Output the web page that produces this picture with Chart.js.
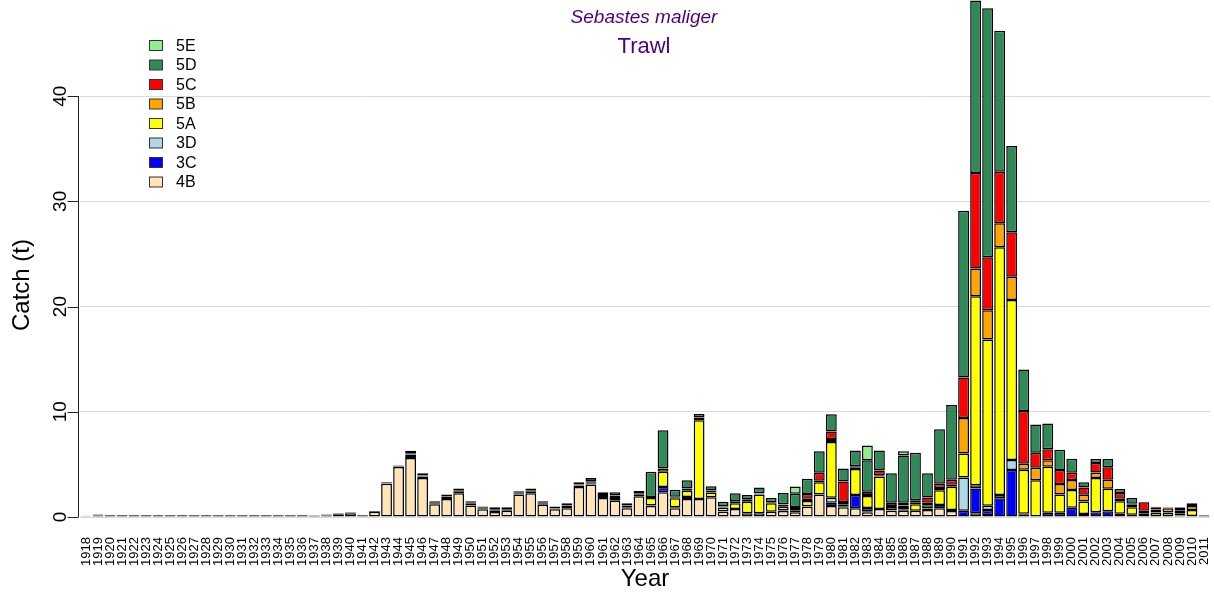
<!DOCTYPE html>
<html>
<head>
<meta charset="utf-8">
<script src="https://cdn.jsdelivr.net/npm/chart.js@4.4.1/dist/chart.umd.min.js"></script>
<style>
  html, body { margin: 0; padding: 0; background: #fff; }
  #wrap { width: 1214px; height: 596px; }
</style>
</head>
<body>
<div id="wrap"><canvas id="catch-chart" width="1214" height="596"></canvas></div>
<script>
// Catch by area, trawl fishery (t)
const years = [
  '1918','1919',
  '1920','1921','1922','1923','1924','1925','1926','1927','1928','1929',
  '1930','1931','1932','1933','1934','1935','1936','1937','1938','1939',
  '1940','1941','1942','1943','1944','1945','1946','1947','1948','1949',
  '1950','1951','1952','1953','1954','1955','1956','1957','1958','1959',
  '1960','1961','1962','1963','1964','1965','1966','1967','1968','1969',
  '1970','1971','1972','1973','1974','1975','1976','1977','1978','1979',
  '1980','1981','1982','1983','1984','1985','1986','1987','1988','1989',
  '1990','1991','1992','1993','1994','1995','1996','1997','1998','1999',
  '2000','2001','2002','2003','2004','2005','2006','2007','2008','2009',
  '2010','2011'
];

// one value per year, 1918 -> 2011
const area4B = [
  0.08, 0.15,
  0.12, 0.12, 0.12, 0.12, 0.12, 0.12, 0.12, 0.12, 0.12, 0.12,
  0.12, 0.12, 0.12, 0.12, 0.12, 0.12, 0.12, 0.1, 0.15, 0.25,
  0.35, 0.12, 0.5, 3.15, 4.75, 5.6, 3.7, 1.2, 1.7, 2.25,
  1.1, 0.73, 0.48, 0.6, 2.15, 2.25, 1.17, 0.73, 0.83, 2.85,
  3.1, 1.8, 1.55, 0.83, 1.97, 1.05, 2.35, 0.83, 1.7, 1.7,
  1.87, 0.5, 0.76, 0.35, 0.35, 0.5, 0.57, 0.45, 0.98, 2.15,
  1.05, 0.92, 0.83, 0.45, 0.76, 0.6, 0.6, 0.6, 0.66, 0.83,
  0.57, 0, 0.35, 0.2, 0, 0, 0.25, 0, 0, 0,
  0, 0, 0, 0, 0, 0, 0, 0, 0, 0,
  0, 0
];
const area3C = [
  0, 0,
  0, 0, 0, 0, 0, 0, 0, 0, 0, 0,
  0, 0, 0, 0, 0, 0, 0, 0, 0, 0,
  0, 0, 0, 0, 0, 0, 0, 0, 0, 0,
  0, 0, 0, 0, 0, 0, 0, 0, 0.12, 0,
  0.05, 0, 0.15, 0.1, 0, 0.05, 0.5, 0.1, 0.2, 0,
  0, 0.05, 0, 0, 0, 0, 0.05, 0, 0.05, 0,
  0.3, 0.1, 1.27, 0.1, 0, 0.05, 0.1, 0, 0.15, 0.3,
  0.1, 0.6, 2.37, 0.47, 1.78, 4.47, 0.05, 0.05, 0.4, 0.4,
  0.88, 0.28, 0.44, 0.54, 0.32, 0.22, 0.1, 0.1, 0.1, 0.15,
  0.1, 0.1
];
const area3D = [
  0, 0,
  0, 0, 0, 0, 0, 0, 0, 0, 0, 0,
  0, 0, 0, 0, 0, 0, 0, 0, 0, 0,
  0, 0, 0, 0, 0, 0, 0, 0, 0, 0,
  0, 0, 0, 0, 0, 0, 0, 0, 0, 0,
  0, 0, 0, 0, 0, 0, 0, 0, 0, 0,
  0, 0, 0, 0, 0, 0, 0, 0, 0, 0,
  0.47, 0, 0, 0.3, 0, 0, 0, 0, 0, 0,
  0, 3.16, 0.3, 0.4, 0.32, 0.95, 0, 0, 0, 0,
  0, 0, 0, 0, 0, 0, 0, 0, 0, 0,
  0, 0
];
const area5A = [
  0, 0.03,
  0, 0, 0, 0, 0, 0, 0, 0, 0, 0,
  0, 0, 0, 0, 0, 0, 0, 0, 0.03, 0.05,
  0.05, 0, 0, 0.05, 0.05, 0.2, 0.15, 0.1, 0.1, 0.15,
  0.15, 0.1, 0.15, 0.1, 0.1, 0.15, 0.1, 0.07, 0.1, 0.15,
  0.15, 0.2, 0.2, 0.12, 0.15, 0.7, 1.45, 0.85, 0.6, 7.5,
  0.45, 0.35, 0.55, 1.1, 1.8, 0.8, 0.35, 0.2, 0.5, 1.15,
  5.3, 0.15, 2.47, 1.15, 3.1, 0.3, 0.15, 0.6, 0.3, 1.42,
  2.2, 2.28, 17.96, 15.8, 23.53, 15.2, 4.2, 3.45, 4.37, 1.75,
  1.68, 1.2, 3.26, 2.15, 1.17, 0.7, 0.25, 0.32, 0.32, 0.2,
  0.57, 0.05
];
const area5B = [
  0, 0,
  0, 0, 0, 0, 0, 0, 0, 0, 0, 0,
  0, 0, 0, 0, 0, 0, 0, 0, 0, 0.03,
  0.03, 0, 0, 0, 0, 0.15, 0.1, 0.05, 0.15, 0.1,
  0.1, 0.1, 0.1, 0.07, 0.05, 0.1, 0.08, 0.05, 0.05, 0.1,
  0.1, 0.1, 0.1, 0.05, 0.1, 0.1, 0.3, 0.1, 0.2, 0.2,
  0.15, 0.1, 0.15, 0.2, 0.05, 0.1, 0.2, 0.1, 0.2, 0.15,
  0.3, 0.25, 0.15, 0.1, 0.1, 0.1, 0.25, 0.2, 0.25, 0.2,
  0.2, 3.36, 2.63, 2.78, 2.28, 2.22, 0.57, 1.17, 0.63, 0.98,
  0.95, 0.63, 0.54, 0.86, 0.25, 0.3, 0.25, 0.3, 0.4, 0.3,
  0.38, 0
];
const area5C = [
  0, 0,
  0, 0, 0, 0, 0, 0, 0, 0, 0, 0,
  0, 0, 0, 0, 0, 0, 0, 0, 0, 0,
  0, 0, 0, 0, 0, 0.1, 0, 0, 0, 0,
  0, 0, 0, 0, 0, 0, 0, 0, 0, 0,
  0, 0, 0.05, 0, 0, 0, 0.05, 0.05, 0.05, 0.05,
  0.05, 0.05, 0.05, 0.05, 0.05, 0, 0.05, 0.2, 0.45, 0.75,
  0.7, 1.95, 0.1, 0.3, 0.47, 0.3, 0.25, 0.2, 0.5, 0.4,
  0.47, 3.86, 9.08, 5.03, 4.9, 4.22, 5.0, 1.43, 1.05, 1.33,
  0.7, 0.7, 0.89, 1.17, 0.54, 0.05, 0.8, 0.2, 0.05, 0.25,
  0, 0
];
const area5D = [
  0.05, 0.05,
  0.06, 0.06, 0.06, 0.06, 0.06, 0.06, 0.06, 0.06, 0.06, 0.06,
  0.06, 0.06, 0.06, 0.06, 0.06, 0.06, 0.06, 0.05, 0.05, 0.05,
  0.05, 0.08, 0.08, 0.1, 0.1, 0.25, 0.2, 0.15, 0.2, 0.2,
  0.15, 0.07, 0.19, 0.15, 0.15, 0.2, 0.15, 0.15, 0.2, 0.2,
  0.3, 0.25, 0.3, 0.2, 0.25, 2.4, 3.6, 0.65, 0.75, 0.35,
  0.4, 0.4, 0.75, 0.4, 0.55, 0.4, 1.05, 1.25, 1.45, 2.05,
  1.65, 1.23, 1.5, 3.0, 1.9, 2.8, 4.5, 4.5, 2.3, 5.2,
  7.1, 15.84, 16.4, 23.67, 13.4, 8.2, 3.95, 2.7, 2.44, 1.93,
  1.33, 0.5, 0.38, 0.79, 0.38, 0.54, 0.05, 0.05, 0.05, 0.05,
  0.25, 0.05
];
const area5E = [
  0, 0,
  0, 0, 0, 0, 0, 0, 0, 0, 0, 0,
  0, 0, 0, 0, 0, 0, 0, 0, 0, 0,
  0, 0, 0, 0, 0, 0, 0, 0, 0, 0,
  0, 0, 0, 0, 0, 0, 0, 0, 0, 0,
  0, 0, 0, 0, 0, 0, 0, 0, 0, 0,
  0, 0, 0, 0, 0, 0, 0, 0.7, 0, 0,
  0, 0, 0, 1.4, 0, 0, 0.4, 0, 0, 0,
  0, 0, 0, 0, 0, 0, 0, 0, 0, 0,
  0, 0, 0, 0, 0, 0, 0, 0, 0, 0,
  0, 0
];

const yTicks = [0, 10, 20, 30, 40];
const yMax = 44.1;

// stacking order, bottom first
const series = [
  { label: '4B', data: area4B, color: '#FFE4B5' },
  { label: '3C', data: area3C, color: '#0000FF' },
  { label: '3D', data: area3D, color: '#ADD8E6' },
  { label: '5A', data: area5A, color: '#FFFF00' },
  { label: '5B', data: area5B, color: '#FFA500' },
  { label: '5C', data: area5C, color: '#FF0000' },
  { label: '5D', data: area5D, color: '#2E8B57' },
  { label: '5E', data: area5E, color: '#90EE90' }
];

const FONT = "'Liberation Sans', Arial, Helvetica, sans-serif";

// R-style axis, titles and legend drawn on top of the chart
const overlayPlugin = {
  id: 'overlay',
  afterDraw(chart) {
    const { ctx, chartArea, scales } = chart;
    const y = scales.y;
    const axisX = chartArea.left - 1.5;
    ctx.save();

    // left axis: line from first to last tick, outward ticks, vertical labels
    ctx.strokeStyle = '#222';
    ctx.lineWidth = 1;
    ctx.beginPath();
    ctx.moveTo(axisX, y.getPixelForValue(yTicks[0]));
    ctx.lineTo(axisX, y.getPixelForValue(yTicks[yTicks.length - 1]));
    yTicks.forEach(v => {
      const py = Math.round(y.getPixelForValue(v)) + 0.5;
      ctx.moveTo(axisX, py);
      ctx.lineTo(axisX - 11, py);
    });
    ctx.stroke();

    ctx.fillStyle = '#000';
    ctx.font = `19px ${FONT}`;
    ctx.textAlign = 'center';
    ctx.textBaseline = 'middle';
    yTicks.forEach(v => {
      ctx.save();
      ctx.translate(axisX - 18, y.getPixelForValue(v));
      ctx.rotate(-Math.PI / 2);
      ctx.fillText(String(v), 0, 0);
      ctx.restore();
    });

    // main title
    const cx = (chartArea.left + chartArea.right) / 2 - 1;
    ctx.fillStyle = '#4B0082';
    ctx.font = `italic 19px ${FONT}`;
    ctx.fillText('Sebastes maliger', cx, 18);
    ctx.font = `22px ${FONT}`;
    ctx.fillText('Trawl', cx, 47);

    // legend, top category first
    ctx.font = `16px ${FONT}`;
    ctx.textAlign = 'left';
    const items = series.slice().reverse();
    items.forEach((s, i) => {
      const top = 40.5 + i * 19.5;
      ctx.fillStyle = s.color;
      ctx.fillRect(149.5, top, 13, 10);
      ctx.strokeStyle = '#333';
      ctx.strokeRect(149.5, top, 13, 10);
      ctx.fillStyle = '#000';
      ctx.fillText(s.label, 176, top + 6);
    });

    ctx.restore();
  }
};

new Chart(document.getElementById('catch-chart'), {
  type: 'bar',
  data: {
    labels: years,
    datasets: series.map(s => ({
      label: s.label,
      data: s.data,
      backgroundColor: s.color,
      borderColor: '#000',
      borderWidth: 1.5,
      borderSkipped: false,
      inflateAmount: 0,
      barPercentage: 0.9,
      categoryPercentage: 1.0,
      clip: false
    }))
  },
  options: {
    responsive: false,
    animation: false,
    layout: { padding: { top: 53, right: 4, left: 0, bottom: 0 } },
    plugins: {
      legend: { display: false },
      title: { display: false },
      tooltip: { enabled: false }
    },
    scales: {
      x: {
        stacked: true,
        grid: { display: false },
        border: { display: false },
        ticks: {
          autoSkip: false,
          minRotation: 90,
          maxRotation: 90,
          padding: 12,
          color: '#000',
          font: { family: FONT, size: 13 }
        },
        title: {
          display: true,
          text: 'Year',
          color: '#000',
          font: { family: FONT, size: 24 },
          padding: { top: 0, bottom: 2 }
        },
        afterFit(scale) {
          scale.height = 79;
          scale.paddingLeft = 0;
          scale.paddingRight = 0;
        }
      },
      y: {
        stacked: true,
        min: 0,
        max: yMax,
        grid: { color: '#d9d9d9', lineWidth: 1, drawTicks: false },
        border: { display: false },
        ticks: { display: false, stepSize: 10, includeBounds: false },
        title: {
          display: true,
          text: 'Catch (t)',
          color: '#000',
          font: { family: FONT, size: 24 },
          padding: { top: 8, bottom: 0 }
        },
        afterFit(scale) { scale.width = 80; }
      }
    }
  },
  plugins: [overlayPlugin]
});
</script>
</body>
</html>
